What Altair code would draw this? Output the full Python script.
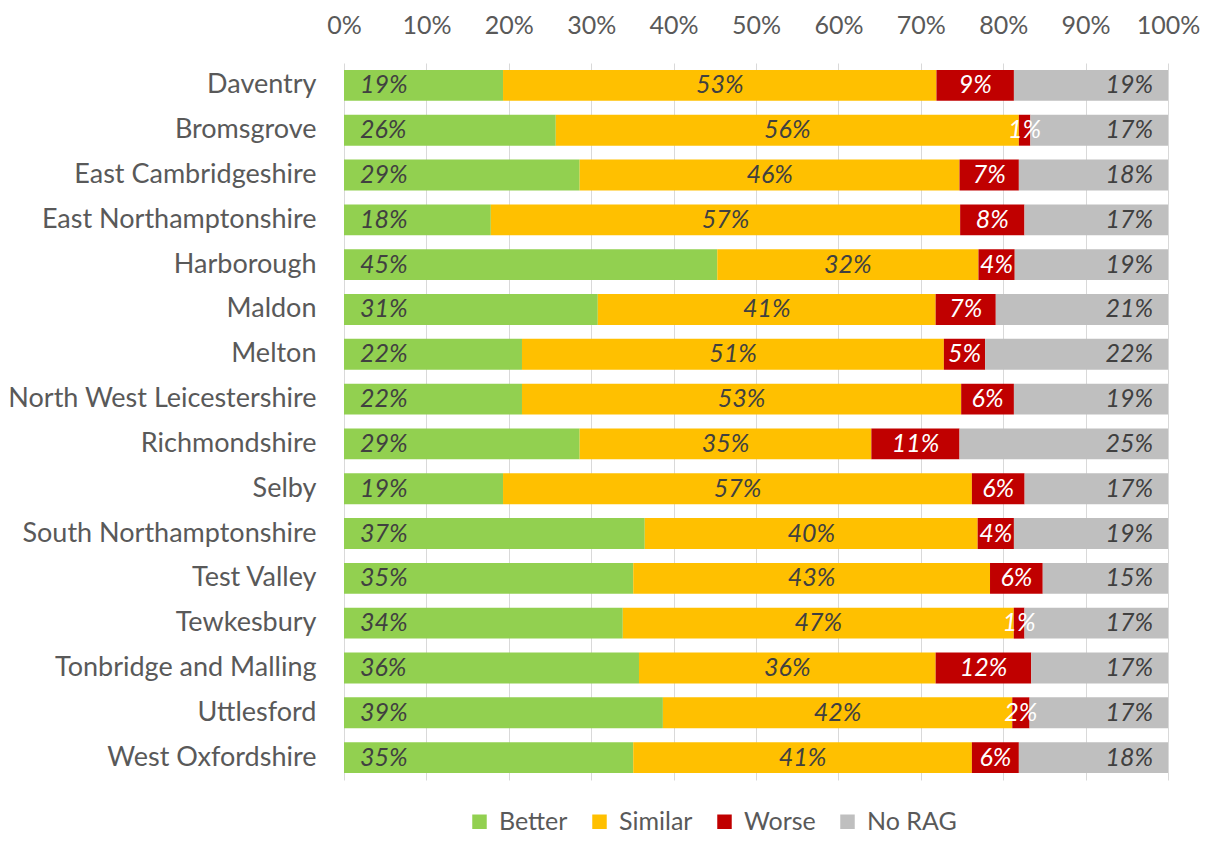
import altair as alt
import pandas as pd

districts = ["Daventry", "Bromsgrove", "East Cambridgeshire", "East Northamptonshire",
             "Harborough", "Maldon", "Melton", "North West Leicestershire", "Richmondshire",
             "Selby", "South Northamptonshire", "Test Valley", "Tewkesbury",
             "Tonbridge and Malling", "Uttlesford", "West Oxfordshire"]
better = [19.3, 25.7, 28.6, 17.8, 45.3, 30.8, 21.6, 21.6, 28.6, 19.3, 36.5, 35.1, 33.8, 35.8, 38.7, 35.1]
similar = [52.6, 56.2, 46.1, 56.9, 31.7, 41.0, 51.2, 53.3, 35.4, 56.9, 40.4, 43.3, 47.4, 36.0, 42.4, 41.1]
worse = [9.4, 1.4, 7.2, 7.8, 4.4, 7.3, 5.0, 6.4, 10.7, 6.4, 4.4, 6.4, 1.3, 11.6, 2.1, 5.7]
norag = [18.7, 16.7, 18.1, 17.4, 18.6, 20.9, 22.2, 18.7, 25.3, 17.4, 18.7, 15.2, 17.4, 16.6, 16.8, 18.1]
categories = ["Better", "Similar", "Worse", "No RAG"]
colors = ["#92D050", "#FFC000", "#C00000", "#BFBFBF"]
tick_values = [0, 0.1, 0.2, 0.3, 0.4, 0.5, 0.6, 0.7, 0.8, 0.9, 1.0]

rows = []
for i, d in enumerate(districts):
    for j, (c, vals) in enumerate(zip(categories, [better, similar, worse, norag])):
        rows.append({"district": d, "cat": c, "order": j, "pct": vals[i]})
df = pd.DataFrame(rows)

FONT = "Lato"
TXT = "#595959"

base = alt.Chart(df).transform_calculate(
    label="round(datum.pct) + '%'"
).transform_stack(
    stack="pct", groupby=["district"], as_=["x0", "x1"], offset="normalize",
    sort=[alt.SortField("order")]
).transform_calculate(mid="(datum.x0 + datum.x1) / 2")

y_enc = alt.Y("district:N", sort=districts,
              scale=alt.Scale(paddingInner=0.31, paddingOuter=0.155),
              axis=alt.Axis(title=None, domain=False, ticks=False, labelFontSize=27,
                            labelColor=TXT, labelFont=FONT, labelPadding=28, labelLimit=0))

bars = base.mark_bar().encode(
    x=alt.X("x0:Q", scale=alt.Scale(domain=[0, 1]),
            axis=alt.Axis(orient="top", format=".0%", values=tick_values, title=None,
                          domain=False, ticks=False, grid=True, gridColor="#D9D9D9",
                          labelFontSize=25, labelColor=TXT, labelFont=FONT, labelPadding=25,
                          labelFlush=False, labelOverlap=False)),
    x2="x1:Q",
    y=y_enc,
    color=alt.Color("cat:N", scale=alt.Scale(domain=categories, range=colors),
                    legend=alt.Legend(title=None, orient="none", direction="horizontal",
                                      legendX=123, legendY=746, symbolType="square",
                                      symbolSize=210, symbolStrokeWidth=0,
                                      labelFontSize=25, labelColor=TXT, labelFont=FONT,
                                      columnPadding=19, labelOffset=7)),
    order=alt.Order("order:Q"),
)

txt_style = dict(font=FONT, fontStyle="italic", fontSize=25, baseline="middle")

t_better = base.transform_filter("datum.cat == 'Better'").mark_text(
    align="left", dx=16, color="#404040", **txt_style
).encode(x="x0:Q", y=alt.Y("district:N", sort=districts), text="label:N")

t_similar = base.transform_filter("datum.cat == 'Similar'").mark_text(
    align="center", color="#404040", **txt_style
).encode(x="mid:Q", y=alt.Y("district:N", sort=districts), text="label:N")

t_worse = base.transform_filter("datum.cat == 'Worse'").mark_text(
    align="center", color="white", **txt_style
).encode(x="mid:Q", y=alt.Y("district:N", sort=districts), text="label:N")

t_norag = base.transform_filter("datum.cat == 'No RAG'").mark_text(
    align="right", dx=-15, color="#404040", **txt_style
).encode(x="x1:Q", y=alt.Y("district:N", sort=districts), text="label:N")

chart = alt.layer(bars, t_better, t_similar, t_worse, t_norag).properties(
    width=824, height=717,
    autosize=alt.AutoSizeParams(type="none"),
    padding={"left": 336, "top": 55, "right": 32, "bottom": 58},
).configure_view(stroke=None)

chart.save("out.html", embed_options={"renderer": "svg", "actions": False})
